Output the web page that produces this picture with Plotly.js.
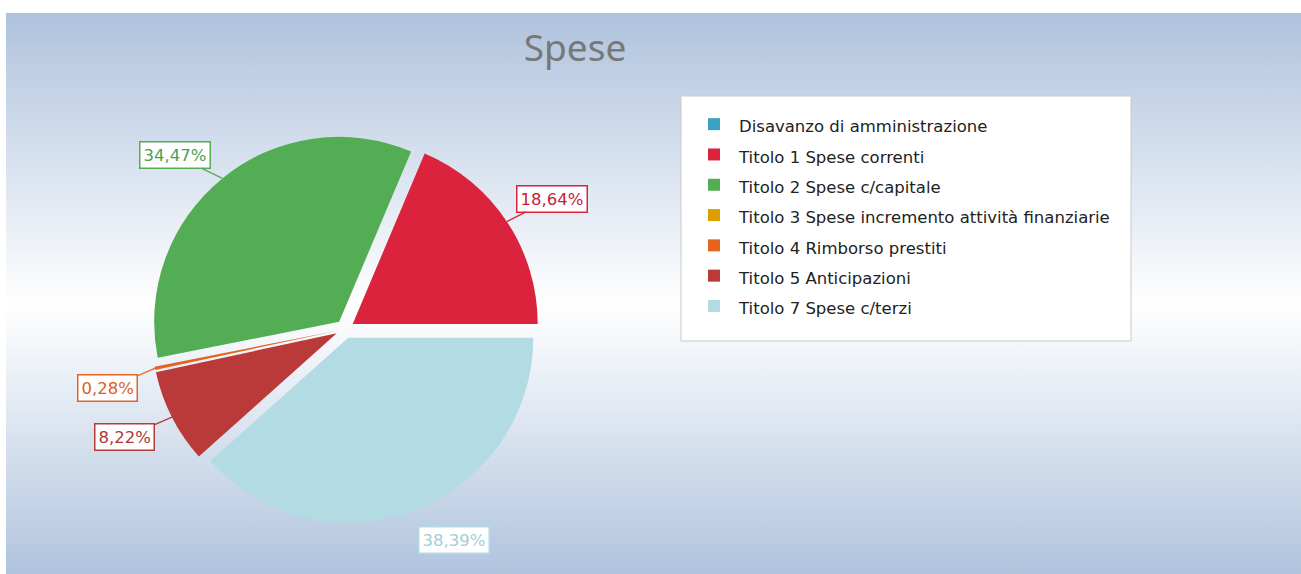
<!DOCTYPE html>
<html>
<head>
<meta charset="utf-8">
<script src="https://cdn.plot.ly/plotly-3.0.1.min.js"></script>
<style>
  html, body { margin: 0; padding: 0; background: #ffffff; }
  #chart {
    width: 1301px; height: 574px;
    background-color: #ffffff;
    background-image: linear-gradient(to bottom, #afc3dd 0%, #ffffff 52%, #b0c4de 100%);
    background-repeat: no-repeat;
    background-position: 6px 13px;
    background-size: 1295px 561px;
  }
</style>
</head>
<body>
<div id="chart"></div>
<script>
// ---- data ----
const categories = [
  "Disavanzo di amministrazione",
  "Titolo 1 Spese correnti",
  "Titolo 2 Spese c/capitale",
  "Titolo 3 Spese incremento attività finanziarie",
  "Titolo 4 Rimborso prestiti",
  "Titolo 5 Anticipazioni",
  "Titolo 7 Spese c/terzi"
];
const percentages = [0, 18.64, 34.47, 0, 0.28, 8.22, 38.39];
const sliceColors = ["#3ba3c2", "#db233d", "#53ad55", "#dba000", "#e3641f", "#b93a38", "#b2dbe3"];
const labelTextColors = ["#3ba3c2", "#c8203a", "#4f9f52", "#c99400", "#d8601e", "#b23836", "#a3cdd8"];

const W = 1301, H = 574;
const PULL = 0.05;

const trace = {
  type: "pie",
  labels: categories.map(c => '<span style="font-size:16.5px">' + c + '</span>'),
  values: percentages,
  sort: false,
  direction: "counterclockwise",
  rotation: 90,
  pull: percentages.map(() => PULL),
  marker: { colors: sliceColors, line: { width: 0 } },
  textinfo: "none",
  hoverinfo: "label+percent",
  domain: { x: [0.11587, 0.41449], y: [0.0884, 0.7652] }
};

const layout = {
  width: W, height: H,
  margin: { l: 0, r: 0, t: 0, b: 0 },
  paper_bgcolor: "rgba(0,0,0,0)",
  plot_bgcolor: "rgba(0,0,0,0)",
  title: {
    text: "Spese",
    x: 575 / W, xref: "paper", xanchor: "center",
    y: 1 - 48 / H, yref: "paper", yanchor: "middle",
    font: { family: "Noto Sans", size: 37, color: "#787878" }
  },
  shapes: [{
    type: "rect", xref: "paper", yref: "paper", layer: "below",
    x0: 681 / W, x1: 1131 / W, y0: 1 - 96 / H, y1: 1 - 341 / H,
    fillcolor: "#ffffff", line: { color: "#c9c9c9", width: 1 }
  }],
  showlegend: true,
  legend: {
    x: 689 / W, xanchor: "left",
    y: 1 - 104 / H, yanchor: "top",
    bgcolor: "rgba(0,0,0,0)",
    borderwidth: 0,
    font: { family: "DejaVu Sans", size: 21, color: "#222222" },
    itemwidth: 40,
    traceorder: "normal"
  }
};

const gd = document.getElementById("chart");
Plotly.newPlot(gd, [trace], layout, { displayModeBar: false, staticPlot: true }).then(() => {
  const cd0 = gd.calcdata[0][0];
  const cx = cd0.cx, cy = cd0.cy, r = cd0.r;
  const total = percentages.reduce((a, b) => a + b, 0);
  let cum = 0;
  const annotations = [];
  percentages.forEach((v, i) => {
    const start = cum;
    cum += v;
    if (v <= 0) return;
    const mid = (start + v / 2) / total * 2 * Math.PI;
    const rr = r * (1 + PULL);
    const px = cx + rr * Math.cos(mid);
    const py = cy - rr * Math.sin(mid);
    const c = Math.cos(mid), s = Math.sin(mid);
    const ax = Math.abs(c) < 0.5 ? (c >= 0 ? 40 : -40) : (c >= 0 ? 45 : -47);
    const ay = s >= 0 ? -23 : (s < -0.8 ? 30 : 20);
    annotations.push({
      x: px / W, y: 1 - py / H, xref: "paper", yref: "paper",
      text: v.toFixed(2).replace(".", ",") + "%",
      showarrow: true, arrowhead: 0, arrowwidth: 1.3, arrowcolor: sliceColors[i],
      ax: ax, ay: ay,
      bgcolor: "#ffffff", bordercolor: sliceColors[i], borderwidth: 1.5, borderpad: 3,
      font: { family: "DejaVu Sans", size: 16.5, color: labelTextColors[i] }
    });
  });
  return Plotly.relayout(gd, { annotations: annotations });
});
</script>
</body>
</html>
